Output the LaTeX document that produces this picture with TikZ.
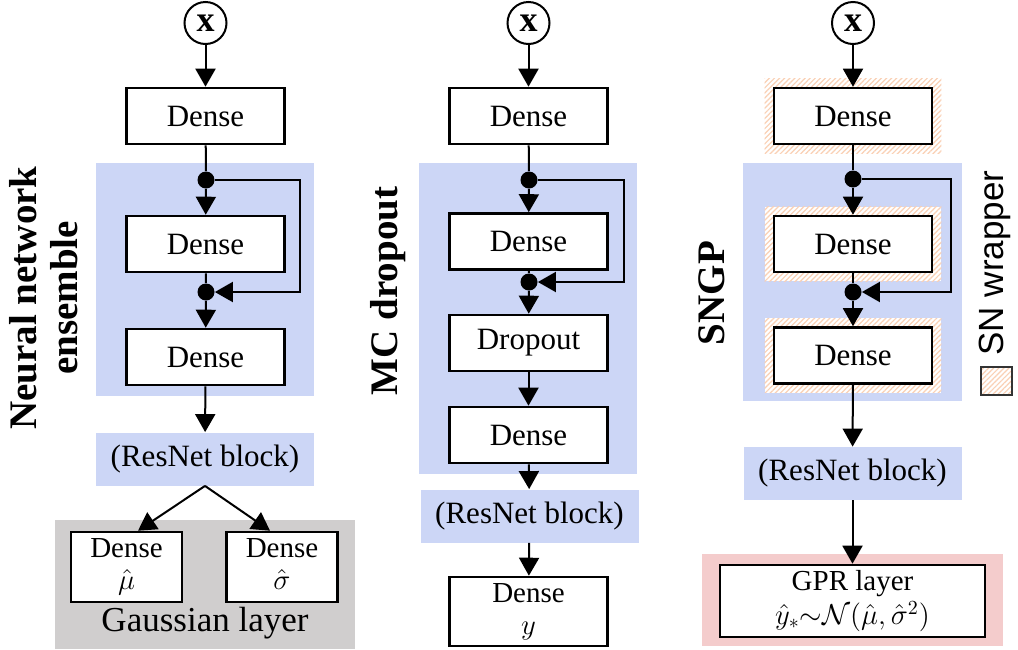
\documentclass[tikz,border=0pt]{standalone}
\usepackage{fontspec}
\setmainfont{Liberation Serif}
\newfontfamily\legendfont{Liberation Sans}
\usetikzlibrary{arrows.meta,backgrounds,patterns.meta}

\definecolor{resblue}{RGB}{204,214,246}
\definecolor{gausgray}{RGB}{208,206,206}
\definecolor{gprpink}{RGB}{244,204,204}
\definecolor{snpeach}{RGB}{250,208,180}

\tikzset{
  layerbox/.style={draw, line width=1.3pt, fill=white, minimum width=79pt,
    minimum height=28pt, inner sep=0pt, font=\fontsize{15.5}{17}\selectfont},
  outbox/.style={layerbox, align=center, font=\fontsize{14.5}{16}\selectfont},
  resblock/.style={fill=resblue, minimum width=109pt, minimum height=26.5pt,
    inner sep=0pt, font=\fontsize{15.5}{17}\selectfont},
  inputnode/.style={circle, draw, line width=1pt, minimum size=21pt, inner sep=0pt,
    font=\bfseries\fontsize{18}{18}\selectfont},
  junction/.style={circle, fill=black, minimum size=8.5pt, inner sep=0pt},
  arr/.style={line width=1pt, -{Triangle[length=9pt,width=10pt]}},
  link/.style={line width=1pt},
  modellabel/.style={rotate=90, align=center, font=\bfseries\fontsize{19.5}{20.5}\selectfont},
  snhatch/.style={preaction={fill=white}, pattern={Lines[angle=45,distance=1.8pt,line width=0.6pt]},
    pattern color=snpeach}
}

\begin{document}
\begin{tikzpicture}[x=0.5pt, y=-0.5pt]
  \useasboundingbox (0,0) rectangle (1018,649);

  % Neural network ensemble
  \node[modellabel] (labA) at (44,298) {Neural network\\ensemble};
  \node[inputnode] (xa) at (205.5,23) {x};
  \node[layerbox] (da1) at (205.5,116) {Dense};
  \node[junction] (pa1) at (206,180) {};
  \node[layerbox] (da2) at (205.5,244) {Dense};
  \node[junction] (pa2) at (206,292) {};
  \node[layerbox] (da3) at (205.5,357) {Dense};
  \node[resblock] (rna) at (205,459) {(ResNet block)};
  \node[outbox, minimum width=55.5pt, minimum height=35pt] (mu) at (126.5,567) {Dense\\$\hat{\mu}$};
  \node[outbox, minimum width=55.5pt, minimum height=35pt] (sig) at (282,567) {Dense\\$\hat{\sigma}\vphantom{\mu}$};
  \node[font=\fontsize{17.5}{18}\selectfont] (gauss) at (205,623) {Gaussian layer};
  \coordinate (ca1) at (300,180);
  \draw[arr] (xa) -- (da1);
  \draw[link] (da1) -- (pa1);
  \draw[arr] (pa1) -- (da2);
  \draw[link] (da2) -- (pa2);
  \draw[arr] (pa1) -- (ca1) |- (pa2);
  \draw[arr] (pa2) -- (da3);
  \draw[arr] (da3) -- (rna);
  \draw[arr] (rna.south) -- ([xshift=5.75pt]mu.north);
  \draw[arr] (rna.south) -- ([xshift=-6pt]sig.north);

  % MC dropout
  \node[modellabel] (labB) at (388,291) {MC dropout};
  \node[inputnode] (xb) at (528.5,23) {x};
  \node[layerbox] (db1) at (528.5,116) {Dense};
  \node[junction] (pb1) at (529,180) {};
  \node[layerbox] (db2) at (528.5,241.5) {Dense};
  \node[junction] (pb2) at (529,282) {};
  \node[layerbox] (drop) at (528.5,343) {Dropout};
  \node[layerbox] (db3) at (528.5,435) {Dense};
  \node[resblock] (rnb) at (529.5,516) {(ResNet block)};
  \node[outbox, minimum height=34.5pt] (yout) at (528.5,611.5) {Dense\\$y$};
  \coordinate (cb1) at (624,180);
  \draw[arr] (xb) -- (db1);
  \draw[link] (db1) -- (pb1);
  \draw[arr] (pb1) -- (db2);
  \draw[link] (db2) -- (pb2);
  \draw[arr] (pb1) -- (cb1) |- (pb2);
  \draw[arr] (pb2) -- (drop);
  \draw[arr] (drop) -- (db3);
  \draw[arr] (db3) -- (rnb);
  \draw[arr] (rnb) -- (yout);

  % SNGP
  \node[modellabel] (labC) at (712,293) {SNGP};
  \node[inputnode] (xc) at (853,23) {x};
  \node[layerbox] (dc1) at (853,116) {Dense};
  \node[junction] (pc1) at (853,179) {};
  \node[layerbox] (dc2) at (853,244) {Dense};
  \node[junction] (pc2) at (853,292) {};
  \node[layerbox] (dc3) at (853,355.5) {Dense};
  \node[resblock] (rnc) at (852.5,473.5) {(ResNet block)};
  \node[outbox, minimum width=132.5pt, minimum height=36pt, font=\fontsize{14.5}{17}\selectfont] (gpr) at (852.5,601)
    {GPR layer\\$\hat{y}_{*}{\sim}\mathcal{N}(\hat{\mu},\hat{\sigma}^2)$};
  \coordinate (cc1) at (951,179);
  \draw[arr] (xc) -- (dc1);
  \draw[link] (dc1) -- (pc1);
  \draw[arr] (pc1) -- (dc2);
  \draw[link] (dc2) -- (pc2);
  \draw[arr] (pc1) -- (cc1) |- (pc2);
  \draw[arr] (pc2) -- (dc3);
  \draw[arr] (dc3) -- (rnc);
  \draw[arr] (rnc) -- (gpr);

  % legend
  \node[snhatch, draw=black!80, line width=0.9pt, minimum width=15.5pt, minimum height=14pt,
    inner sep=0pt] (snkey) at (996.5,381) {};
  \node[rotate=90, font=\legendfont\fontsize{17.5}{18}\selectfont] (sntext) at (995,263) {SN wrapper};

  % backgrounds
  \begin{scope}[on background layer]
    \fill[resblue] (96,163) rectangle (314,396);
    \fill[resblue] (419,163) rectangle (637,474);
    \fill[resblue] (743,163) rectangle (962,401);
    \fill[gausgray] (55,520) rectangle (355,649);
    \fill[gprpink] (702,554) rectangle (1003,646);
    \foreach \blk in {dc1,dc2,dc3}
      \path[snhatch] ([shift={(-4pt,4pt)}]\blk.north west) rectangle ([shift={(4pt,-4pt)}]\blk.south east);
  \end{scope}
\end{tikzpicture}
\end{document}
